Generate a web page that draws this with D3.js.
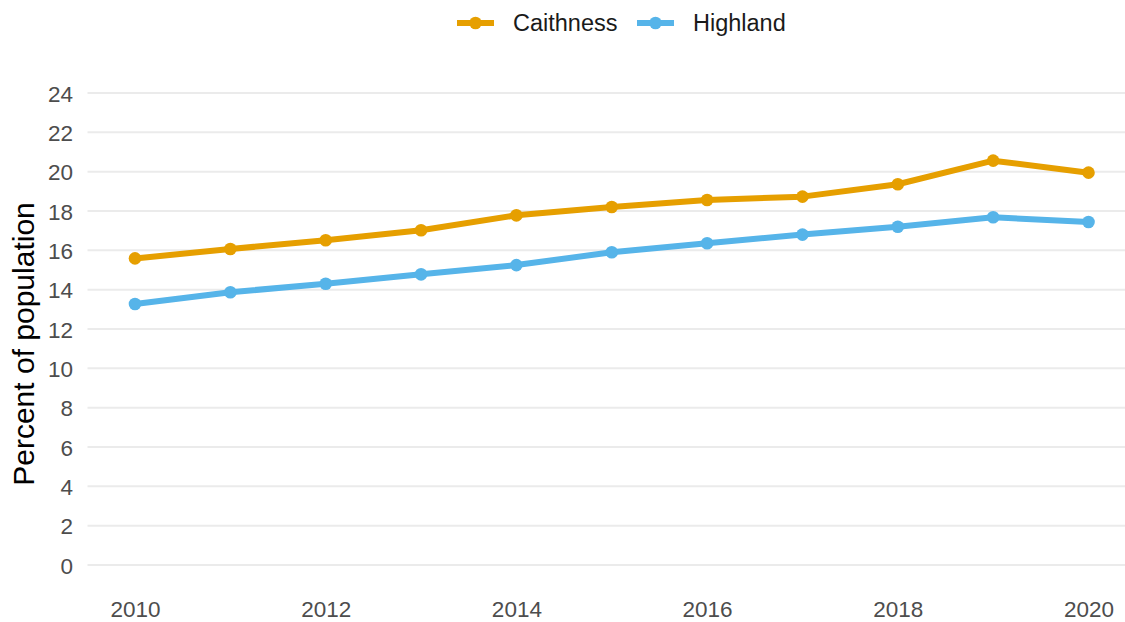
<!DOCTYPE html>
<html>
<head>
<meta charset="utf-8">
<script src="https://cdn.jsdelivr.net/npm/d3@7"></script>
<style>
  body { margin: 0; background: #fff; }
  text { font-family: "Liberation Sans", Arial, sans-serif; }
</style>
</head>
<body>
<div id="chart"></div>
<script>
// data
const years = [2010, 2011, 2012, 2013, 2014, 2015, 2016, 2017, 2018, 2019, 2020]
const caithness = [15.59, 16.07, 16.51, 17.02, 17.78, 18.2, 18.56, 18.73, 19.36, 20.56, 19.95]
const highland = [13.27, 13.87, 14.3, 14.78, 15.25, 15.9, 16.36, 16.8, 17.2, 17.68, 17.44]
const seriesNames = ["Caithness", "Highland"]
const seriesColors = ["#E69F00", "#56B4E9"]
const xTicks = [2010, 2012, 2014, 2016, 2018, 2020]
const yTicks = [0, 2, 4, 6, 8, 10, 12, 14, 16, 18, 20, 22, 24]

const width = 1125
const height = 622
const panel = { left: 87.5, right: 1125 }

const svg = d3.select("div#chart").append("svg").attr("width", width).attr("height", height)

const x = d3.scaleLinear().domain([2010, 2020]).range([135, 1088.5])
const y = d3.scaleLinear().domain([0, 24]).range([565, 93])

// grid
const grid = svg.append("g").attr("class", "grid")
grid.selectAll("line").data(yTicks).join("line")
    .attr("x1", panel.left).attr("x2", panel.right)
    .attr("y1", d => y(d)).attr("y2", d => y(d))
    .attr("stroke", "#ebebeb").attr("stroke-width", 2)

// axes (text only, like ggplot minimal)
const yAxis = d3.axisLeft(y).tickValues(yTicks).tickSize(0).tickPadding(0)
const yAxisGroup = svg.append("g").attr("transform", "translate(73,0)").call(yAxis)
yAxisGroup.select(".domain").remove()
yAxisGroup.selectAll("text").attr("font-size", 22.5).attr("fill", "#4d4d4d")
    .attr("font-family", '"Liberation Sans", Arial, sans-serif').attr("dy", "0.36em")

const xAxis = d3.axisBottom(x).tickValues(xTicks).tickFormat(d3.format("d")).tickSize(0).tickPadding(0)
const xAxisGroup = svg.append("g").attr("transform", "translate(0,601)").call(xAxis)
xAxisGroup.select(".domain").remove()
xAxisGroup.selectAll("text").attr("font-size", 22.5).attr("fill", "#4d4d4d")
    .attr("font-family", '"Liberation Sans", Arial, sans-serif').attr("dy", "0.71em")

svg.append("text")
    .attr("transform", "translate(34,344) rotate(-90)")
    .attr("text-anchor", "middle")
    .attr("font-size", 30)
    .attr("fill", "#000")
    .text("Percent of population")

// lines
const series = [caithness, highland]
const line = d3.line().x((d, i) => x(years[i])).y(d => y(d))

const lines = svg.append("g").attr("class", "lines")
series.forEach((vals, s) => {
    lines.append("path").datum(vals)
        .attr("d", line)
        .attr("fill", "none")
        .attr("stroke", seriesColors[s])
        .attr("stroke-width", 6)
        .attr("stroke-linejoin", "round")
    lines.selectAll(".pt" + s).data(vals).join("circle")
        .attr("class", "pt" + s)
        .attr("cx", (d, i) => x(years[i]))
        .attr("cy", d => y(d))
        .attr("r", 6.3)
        .attr("fill", seriesColors[s])
})

// legend
const legendX = [457, 637]
const legend = svg.append("g").attr("class", "legend")
seriesNames.forEach((name, s) => {
    const g = legend.append("g").attr("transform", `translate(${legendX[s]},23)`)
    g.append("line").attr("x1", 0).attr("x2", 37).attr("y1", 0).attr("y2", 0)
        .attr("stroke", seriesColors[s]).attr("stroke-width", 6)
    g.append("circle").attr("cx", 18.5).attr("cy", 0).attr("r", 6.3).attr("fill", seriesColors[s])
    g.append("text").attr("x", 56).attr("y", 0).attr("dy", "0.36em")
        .attr("font-size", 23.5).attr("fill", "#1a1a1a").text(name)
})
</script>
</body>
</html>
